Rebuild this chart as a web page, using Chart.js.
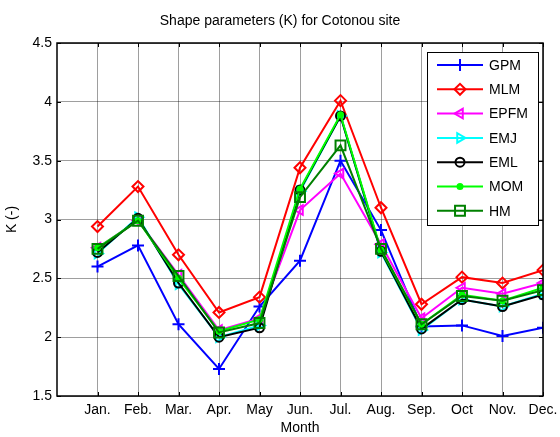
<!DOCTYPE html>
<html>
<head>
<meta charset="utf-8">
<script src="https://cdn.jsdelivr.net/npm/chart.js@4/dist/chart.umd.min.js"></script>
<style>
  html, body { margin: 0; padding: 0; background: #fff; }
  #wrap { width: 560px; height: 437px; }
</style>
</head>
<body>
<div id="wrap"><canvas id="c" width="560" height="437"></canvas></div>
<script>
// Monthly Weibull shape parameter K, Cotonou, by estimation method
const chartTitle = 'Shape parameters (K) for Cotonou site';
const months = ['Jan.', 'Feb.', 'Mar.', 'Apr.', 'May', 'Jun.', 'Jul.', 'Aug.', 'Sep.', 'Oct', 'Nov.', 'Dec.'];
const yTicks = [1.5, 2, 2.5, 3, 3.5, 4, 4.5];

const gpm  = [2.60, 2.78, 2.11, 1.73, 2.26, 2.65, 3.50, 2.91, 2.09, 2.10, 2.01, 2.08];
const mlm  = [2.94, 3.28, 2.70, 2.21, 2.34, 3.44, 4.01, 3.10, 2.28, 2.51, 2.46, 2.57];
const epfm = [2.76, 2.99, 2.53, 2.06, 2.16, 3.08, 3.39, 2.79, 2.16, 2.42, 2.37, 2.46];
const emj  = [2.71, 3.02, 2.45, 2.00, 2.10, 3.24, 3.88, 2.72, 2.06, 2.32, 2.26, 2.37];
const eml  = [2.72, 3.01, 2.46, 2.00, 2.08, 3.25, 3.88, 2.73, 2.07, 2.32, 2.26, 2.36];
const mom  = [2.76, 2.99, 2.50, 2.05, 2.15, 3.26, 3.89, 2.74, 2.11, 2.36, 2.31, 2.42];
const hm   = [2.75, 2.99, 2.52, 2.04, 2.12, 3.19, 3.63, 2.75, 2.11, 2.35, 2.31, 2.40];

const FONT = "'Liberation Sans', Arial, Helvetica, sans-serif";

const toPoints = arr => arr.map((v, i) => ({ x: i + 1, y: v }));

function series(label, values, color, style, radius, rotation, filled) {
  return {
    label,
    data: toPoints(values),
    borderColor: color,
    backgroundColor: filled ? color : 'rgba(0,0,0,0)',
    borderWidth: 2,
    pointStyle: style,
    pointRadius: radius,
    pointRotation: rotation,
    pointBorderColor: color,
    pointBackgroundColor: filled ? color : 'rgba(0,0,0,0)',
    pointBorderWidth: 2,
    tension: 0,
    fill: false
  };
}

const datasets = [
  series('GPM',  gpm,  '#0000ff', 'cross',    6,   0,   false),
  series('MLM',  mlm,  '#ff0000', 'rectRot',  5.5, 0,   false),
  series('EPFM', epfm, '#ff00ff', 'triangle', 5.5, -90, false),
  series('EMJ',  emj,  '#00ffff', 'triangle', 5.5, 90,  false),
  series('EML',  eml,  '#000000', 'circle',   4.5, 0,   false),
  series('MOM',  mom,  '#00ff00', 'circle',   2.5, 0,   true),
  series('HM',   hm,   '#008000', 'rect',     7,   0,   false)
];
// later series are painted over earlier ones
datasets.forEach((d, i) => { d.order = datasets.length - 1 - i; });

// Title centred on the whole canvas
const titlePlugin = {
  id: 'pageTitle',
  afterDraw(chart) {
    const { ctx } = chart;
    ctx.save();
    ctx.font = '14px ' + FONT;
    ctx.fillStyle = '#000';
    ctx.textAlign = 'center';
    ctx.textBaseline = 'middle';
    ctx.fillText(chartTitle, chart.width / 2, 21);
    ctx.restore();
  }
};

// Axes box with inward tick marks
const boxPlugin = {
  id: 'axesBox',
  afterDatasetsDraw(chart) {
    const { ctx, chartArea: a, scales } = chart;
    ctx.save();
    ctx.strokeStyle = '#000';
    ctx.lineWidth = 1;
    const tl = 4;
    ctx.beginPath();
    scales.x.ticks.forEach(t => {
      const px = Math.round(scales.x.getPixelForValue(t.value)) + 0.5;
      ctx.moveTo(px, a.bottom); ctx.lineTo(px, a.bottom - tl);
      ctx.moveTo(px, a.top);    ctx.lineTo(px, a.top + tl);
    });
    scales.y.ticks.forEach(t => {
      const py = Math.round(scales.y.getPixelForValue(t.value)) + 0.5;
      ctx.moveTo(a.left, py);  ctx.lineTo(a.left + tl, py);
      ctx.moveTo(a.right, py); ctx.lineTo(a.right - tl, py);
    });
    ctx.stroke();
    ctx.lineWidth = 1.5;
    ctx.strokeRect(a.left, a.top, a.right - a.left, a.bottom - a.top);
    ctx.restore();
  }
};

// Boxed legend in the upper right corner of the plot
const legendPlugin = {
  id: 'boxLegend',
  afterDraw(chart) {
    const { ctx, chartArea: a } = chart;
    const boxW = 111, boxH = 173;
    const x0 = a.right - 5 - boxW, y0 = a.top + 9;
    const rowH = 24.3;
    ctx.save();
    ctx.fillStyle = '#fff';
    ctx.fillRect(x0, y0, boxW, boxH);
    ctx.strokeStyle = '#000';
    ctx.lineWidth = 1;
    ctx.strokeRect(x0 + 0.5, y0 + 0.5, boxW, boxH);
    ctx.font = '14px ' + FONT;
    ctx.textBaseline = 'middle';
    chart.data.datasets.forEach((d, i) => {
      const y = y0 + 13 + i * rowH;
      ctx.strokeStyle = d.borderColor;
      ctx.lineWidth = 2;
      ctx.beginPath();
      ctx.moveTo(x0 + 10, y); ctx.lineTo(x0 + 56, y);
      ctx.stroke();
      ctx.fillStyle = d.pointBackgroundColor;
      ctx.strokeStyle = d.pointBorderColor;
      ctx.lineWidth = d.pointBorderWidth;
      Chart.helpers.drawPoint(ctx, {
        pointStyle: d.pointStyle,
        radius: d.pointRadius,
        rotation: d.pointRotation,
        borderWidth: d.pointBorderWidth
      }, x0 + 33, y);
      ctx.fillStyle = '#000';
      ctx.fillText(d.label, x0 + 62, y + 1);
    });
    ctx.restore();
  }
};

new Chart(document.getElementById('c'), {
  type: 'line',
  data: { datasets },
  options: {
    responsive: false,
    animation: false,
    devicePixelRatio: 1,
    layout: { padding: { left: 0, right: 17, top: 43, bottom: 0 } },
    plugins: {
      legend: { display: false },
      tooltip: { enabled: false },
      title: { display: false }
    },
    scales: {
      x: {
        type: 'linear',
        min: 0,
        max: 12,
        afterBuildTicks: s => { s.ticks = months.map((m, i) => ({ value: i + 1 })); },
        afterFit: s => { s.height = 41; s.paddingLeft = 0; s.paddingRight = 0; },
        ticks: {
          autoSkip: false,
          maxRotation: 0,
          padding: 6,
          color: '#000',
          font: { family: FONT, size: 14 },
          callback: v => months[v - 1] || ''
        },
        grid: { color: 'rgba(0,0,0,0.38)', lineWidth: 1, drawTicks: false },
        border: { display: false },
        title: {
          display: true,
          text: 'Month',
          color: '#000',
          font: { family: FONT, size: 14 },
          padding: { top: 0, bottom: 0 }
        }
      },
      y: {
        min: 1.5,
        max: 4.5,
        afterBuildTicks: s => { s.ticks = yTicks.map(v => ({ value: v })); },
        afterFit: s => { s.width = 57; s.paddingTop = 0; s.paddingBottom = 0; },
        ticks: {
          padding: 5,
          color: '#000',
          font: { family: FONT, size: 14 },
          callback: v => String(v)
        },
        grid: { color: 'rgba(0,0,0,0.38)', lineWidth: 1, drawTicks: false },
        border: { display: false },
        title: {
          display: true,
          text: 'K (-)',
          color: '#000',
          font: { family: FONT, size: 14 },
          padding: { top: 4, bottom: 0 }
        }
      }
    }
  },
  plugins: [titlePlugin, boxPlugin, legendPlugin]
});
</script>
</body>
</html>
